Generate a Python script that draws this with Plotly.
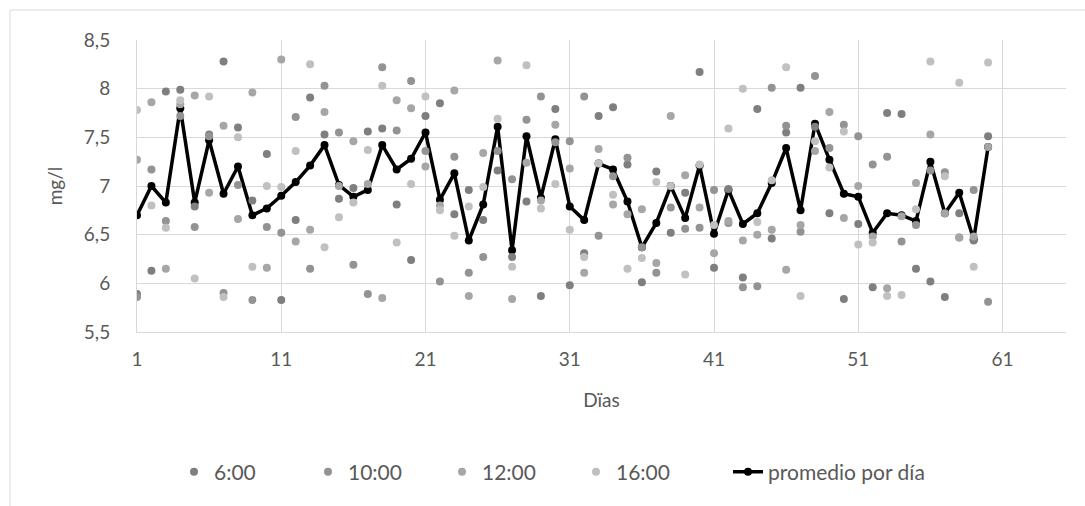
import plotly.graph_objects as go

days = list(range(1, 61))

s0600 = [5.89, 6.13, 7.97, 7.99, 6.79, 7.53, 8.28, 7.60, 6.85, 7.33,
         5.83, 6.65, 7.91, 7.53, 6.87, 6.98, 7.56, 7.59, 6.81, 6.24,
         7.72, 7.85, 6.71, 6.96, 6.65, 7.16, 6.27, 6.84, 5.87, 7.79,
         5.98, 6.31, 7.72, 7.81, 7.22, 6.01, 7.15, 6.52, 6.93, 8.17,
         6.16, 6.97, 6.06, 7.79, 6.46, 7.55, 8.01, 7.61, 6.72, 5.84,
         6.61, 5.96, 7.75, 7.74, 6.15, 6.02, 5.86, 6.72, 6.44, 7.51]
s1000 = [5.86, 7.17, 6.64, 7.72, 6.58, 7.51, 5.90, 7.01, 5.83, 6.58,
         6.52, 7.71, 6.15, 8.03, 7.55, 6.19, 5.89, 8.22, 7.57, 8.08,
         7.36, 6.02, 7.30, 6.11, 6.27, 7.36, 7.07, 7.68, 7.92, 7.45,
         7.46, 7.92, 6.49, 7.10, 7.29, 6.37, 6.11, 6.78, 6.56, 6.57,
         6.96, 6.62, 5.96, 5.97, 8.01, 7.62, 6.53, 8.13, 7.39, 7.63,
         7.51, 7.22, 7.30, 6.43, 6.60, 7.16, 7.14, 6.47, 6.96, 5.81]
s1200 = [7.27, 7.86, 6.15, 7.84, 7.93, 6.93, 7.62, 6.66, 7.96, 6.16,
         8.30, 6.43, 6.55, 7.76, 7.00, 7.46, 7.02, 5.85, 7.88, 7.80,
         7.20, 6.80, 7.98, 5.87, 7.34, 8.29, 5.84, 7.24, 6.85, 7.63,
         7.18, 6.11, 7.38, 6.81, 6.71, 6.76, 6.21, 7.72, 7.11, 6.78,
         6.31, 6.64, 6.44, 6.50, 6.55, 6.14, 6.60, 7.36, 7.76, 6.67,
         7.00, 6.48, 5.95, 6.69, 7.03, 7.53, 6.72, 6.47, 6.48, 7.40]
s1600 = [7.78, 6.80, 6.57, 7.88, 6.05, 7.92, 5.86, 7.50, 6.17, 7.00,
         6.99, 7.36, 8.25, 6.37, 6.68, 6.83, 7.37, 8.03, 6.42, 7.02,
         7.92, 6.75, 6.49, 6.79, 6.99, 7.69, 6.17, 8.24, 6.77, 7.02,
         6.55, 6.27, 7.23, 6.91, 6.15, 6.26, 7.04, 7.00, 6.09, 7.22,
         6.60, 7.59, 8.00, 6.63, 7.06, 8.22, 5.87, 7.46, 7.19, 7.56,
         6.40, 6.42, 5.87, 5.88, 6.76, 8.28, 7.10, 8.06, 6.17, 8.27]
promedio = [6.70, 7.00, 6.83, 7.80, 6.83, 7.47, 6.92, 7.20, 6.70, 6.77,
            6.90, 7.04, 7.21, 7.42, 7.01, 6.89, 6.96, 7.42, 7.17, 7.28,
            7.55, 6.86, 7.13, 6.44, 6.81, 7.61, 6.34, 7.51, 6.88, 7.48,
            6.79, 6.65, 7.23, 7.17, 6.84, 6.37, 6.62, 7.00, 6.67, 7.21,
            6.51, 6.96, 6.61, 6.72, 7.03, 7.39, 6.75, 7.64, 7.27, 6.92,
            6.89, 6.52, 6.72, 6.70, 6.64, 7.25, 6.72, 6.93, 6.45, 7.40]

series = [("6:00", s0600, "#7f7f7f"), ("10:00", s1000, "#939393"),
          ("12:00", s1200, "#a6a6a6"), ("16:00", s1600, "#c0c0c0")]

fig = go.Figure()
fig.add_trace(go.Scatter(x=days, y=promedio, mode="lines+markers",
                         name="promedio por día", legend="legend2",
                         line=dict(color="#000000", width=3.5),
                         marker=dict(color="#000000", size=8)))
for i, (name, vals, col) in enumerate(series):
    fig.add_trace(go.Scatter(x=days, y=vals, mode="markers", name=name,
                             legendrank=i + 1,
                             marker=dict(color=col, size=8)))

grid = "#d9d9d9"
txt = "#595959"
fs = 19
lfs = 21
fig.update_layout(
    width=1085, height=506,
    margin=dict(l=137, r=19, t=40, b=174),
    paper_bgcolor="white", plot_bgcolor="white",
    separators=",.",
    font=dict(family="Lato, Noto Sans, sans-serif", size=fs, color=txt),
    showlegend=True,
    legend=dict(orientation="h", x=(174 - 137) / 929, xanchor="left", y=-0.48,
                yanchor="middle", font=dict(size=lfs, color=txt),
                entrywidth=89, entrywidthmode="pixels", traceorder="normal",
                bgcolor="rgba(0,0,0,0)"),
    legend2=dict(orientation="h", x=(728 - 137) / 929, xanchor="left", y=-0.48,
                 yanchor="middle", font=dict(size=lfs, color=txt),
                 bgcolor="rgba(0,0,0,0)"),
    xaxis=dict(range=[1, 65.4], tick0=1, dtick=10, showgrid=True,
               gridcolor=grid, gridwidth=1, zeroline=False, showline=True,
               linecolor=grid, linewidth=1, ticks="", ticklabelstandoff=10,
               title=dict(text="Dïas", standoff=24, font=dict(size=fs, color=txt))),
    yaxis=dict(range=[5.5, 8.5], tick0=5.5, dtick=0.5, showgrid=True,
               gridcolor=grid, gridwidth=1, zeroline=False, showline=True,
               linecolor=grid, linewidth=1, ticks="", ticklabelstandoff=22,
               title=dict(text="mg/l", standoff=16, font=dict(size=fs, color=txt))),
    shapes=[dict(type="rect", xref="paper", yref="paper",
                 x0=(10 - 137) / 929, x1=(1095 - 137) / 929,
                 y0=(332 - 520) / 292, y1=(332 - 10) / 292,
                 line=dict(color=grid, width=1), layer="below")],
)

fig.write_html("out.html")
